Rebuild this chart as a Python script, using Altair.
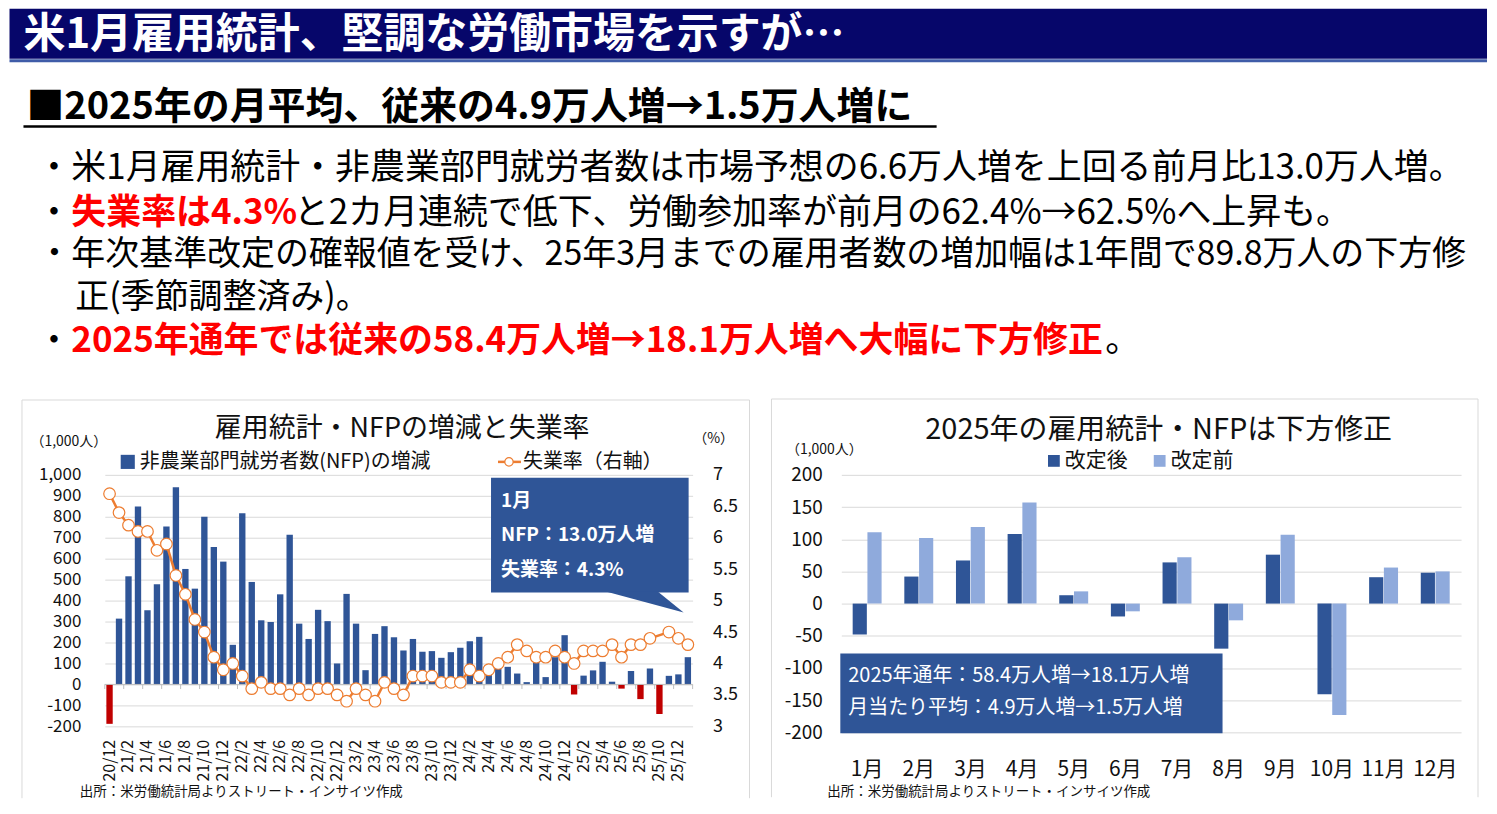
import altair as alt
import pandas as pd

FONT = "Noto Sans CJK JP"
NAVY = "#2F5597"
LIGHT = "#8FAADC"
RED = "#C00000"
ORANGE = "#ED7D31"
GRID = "#D9D9D9"
PANEL = "#D9D9D9"
TITLE_BG = "#06066A"
INK = "#111111"

# ---------------- data ----------------
months = ["20/12"] + [f"{y}/{m}" for y in range(21, 26) for m in range(1, 13)] + ["26/1"]
label_months = months[::2]

nfp = [-188, 314, 516, 849, 354, 478, 754, 941, 551, 457, 800, 656, 586,
       189, 817, 489, 306, 298, 430, 714, 290, 217, 356, 302, 100,
       432, 290, 68, 241, 278, 225, 162, 217, 156, 159, 127, 154,
       175, 206, 227, 70, 90, 84, 52, 11, 110, 35, 130, 235,
       -48, 42, 67, 108, 13, -20, 64, -70, 76, -141, 41, 48,
       130]

rate = [6.7, 6.4, 6.2, 6.1, 6.1, 5.8, 5.9, 5.4, 5.1, 4.7, 4.5, 4.1, 3.9,
        4.0, 3.8, 3.6, 3.7, 3.6, 3.6, 3.5, 3.6, 3.5, 3.6, 3.6, 3.5,
        3.4, 3.6, 3.5, 3.4, 3.7, 3.6, 3.5, 3.8, 3.8, 3.8, 3.7, 3.7,
        3.7, 3.9, 3.8, 3.9, 4.0, 4.1, 4.3, 4.2, 4.1, 4.1, 4.2, 4.1,
        4.0, 4.2, 4.2, 4.2, 4.3, 4.1, 4.3, 4.3, 4.4, None, 4.5, 4.4,
        4.3]

r_months = ["1月", "2月", "3月", "4月", "5月", "6月", "7月", "8月", "9月", "10月", "11月", "12月"]
series = ["改定後", "改定前"]
after = [-48, 42, 67, 108, 13, -20, 64, -70, 76, -141, 41, 48]
before = [111, 102, 119, 157, 19, -12, 72, -26, 107, -173, 56, 50]

df_left = pd.DataFrame({"month": months, "nfp": nfp, "rate": rate})
df_ticks = pd.DataFrame({"month": label_months})
df_right = pd.DataFrame({
    "month": r_months * 2,
    "series": [series[0]] * 12 + [series[1]] * 12,
    "value": after + before,
})
dummy = pd.DataFrame({"k": [0]})


# ---------------- helpers for annotations ----------------
def T(text, x, y, size, color=INK, weight="normal", align="left"):
    return alt.Chart(dummy).mark_text(
        text=text, font=FONT, fontSize=size, color=color, fontWeight=weight,
        align=align, baseline="middle"
    ).encode(x=alt.value(x), y=alt.value(y))


def box(x0, x1, y0, y1, color):
    return alt.Chart(dummy).mark_rect(color=color, opacity=1).encode(
        x=alt.value(x0), x2=alt.value(x1), y=alt.value(y0), y2=alt.value(y1))


def hline(x0, x1, y, color, w=1, opacity=1):
    return alt.Chart(dummy).mark_rule(color=color, strokeWidth=w, opacity=opacity).encode(
        x=alt.value(x0), x2=alt.value(x1), y=alt.value(y))


def vline(x, y0, y1, color, w=1, opacity=1):
    return alt.Chart(dummy).mark_rule(color=color, strokeWidth=w, opacity=opacity).encode(
        x=alt.value(x), y=alt.value(y0), y2=alt.value(y1))


neg_label = "datum.value < 0 ? '-' + format(-datum.value, ',') : format(datum.value, ',')"

# ---------------- header ----------------
# The first column's origin sits 95.5px right of the page margin (left chart overhang),
# so header x positions are given relative to that origin.
HX = 95.5
HW, HH = 1385, 390


def hx(x):
    return x - HX


header = alt.layer(
    box(-HX, HW, 0, 50, TITLE_BG),
    hline(-HX, HW, 52, "#3F5CA8", 3),
    T("米1月雇用統計、堅調な労働市場を示すが…", hx(14), 26, 42, "white", "bold"),
    T("■2025年の月平均、従来の4.9万人増→1.5万人増に", hx(17), 99, 38, "#000000", "bold"),
    hline(hx(14), hx(929), 118, "#000000", 2.5),
    # line 1
    T("・米1月雇用統計・非農業部門就労者数は市場予想の6.6万人増を上回る前月比13.0万人増。", hx(27), 160, 35, "#000000"),
    # line 2
    T("・", hx(27), 205, 35, "#000000"),
    T("失業率は4.3%", hx(62), 205, 35, "#FF0000", "bold"),
    T("と2カ月連続で低下、労働参加率が前月の62.4%→62.5%へ上昇も。", hx(285), 205, 35, "#000000"),
    # line 3-4
    T("・年次基準改定の確報値を受け、25年3月までの雇用者数の増加幅は1年間で89.8万人の下方修", hx(28), 247, 34, "#000000"),
    T("正(季節調整済み)。", hx(66), 290, 34, "#000000"),
    # line 5
    T("・", hx(27), 333, 35, "#000000"),
    T("2025年通年では従来の58.4万人増→18.1万人増へ大幅に下方修正", hx(62), 333, 35, "#FF0000", "bold"),
    T("。", hx(1098), 333, 35, "#000000"),
).properties(width=HW, height=HH)

# ---------------- left chart ----------------
LW, LH = 589, 252
BOT = 324
xs_left = alt.Scale(domain=months, paddingInner=0.33, paddingOuter=0.165)
xaxis_left = alt.Axis(values=label_months, labelAngle=-90, labelFontSize=16, labelPadding=13,
                      ticks=False, domain=False, title=None, labelColor=INK, labelFont=FONT)
ys_left = alt.Scale(domain=[-200, 1000], nice=False)
yaxis_left = alt.Axis(values=list(range(-200, 1001, 100)), labelExpr=neg_label, labelFontSize=17,
                      labelPadding=24, ticks=False, domain=False, grid=True, gridColor=GRID,
                      title=None, labelColor=INK, labelFont=FONT)
ys_rate = alt.Scale(domain=[3, 7], nice=False, zero=False)
yaxis_rate = alt.Axis(orient="right", values=[3, 3.5, 4, 4.5, 5, 5.5, 6, 6.5, 7],
                      labelExpr="datum.value + ''", labelFontSize=18, labelPadding=20,
                      ticks=False, domain=False, grid=False, title=None, labelColor=INK, labelFont=FONT)

bars = alt.Chart(df_left).mark_bar().encode(
    x=alt.X("month:N", scale=xs_left, axis=xaxis_left),
    y=alt.Y("nfp:Q", scale=ys_left, axis=yaxis_left),
    color=alt.condition("datum.nfp < 0", alt.value(RED), alt.value(NAVY)),
)
zero_rule = alt.Chart(dummy).mark_rule(color="#BFBFBF", strokeWidth=1).encode(
    y=alt.Y(datum=0, scale=ys_left, axis=yaxis_left))
ticks = alt.Chart(df_ticks).mark_rule(color="#BFBFBF", strokeWidth=1, xOffset=-1.6).encode(
    x=alt.X("month:N", scale=xs_left, axis=xaxis_left, bandPosition=0),
    y=alt.Y(datum=0, scale=ys_left, axis=yaxis_left),
    y2=alt.Y2(datum=-22),
)
end_tick = alt.Chart(dummy).mark_rule(color="#BFBFBF", strokeWidth=1).encode(
    x=alt.value(LW), y=alt.Y(datum=0, scale=ys_left, axis=yaxis_left), y2=alt.Y2(datum=-22))
nfp_part = alt.layer(bars, zero_rule, ticks, end_tick)

line = alt.Chart(df_left).transform_filter("isValid(datum.rate)").mark_line(
    color=ORANGE, strokeWidth=2.5).encode(
    x=alt.X("month:N", scale=xs_left, axis=xaxis_left),
    y=alt.Y("rate:Q", scale=ys_rate, axis=yaxis_rate),
)
pts = alt.Chart(df_left).transform_filter("isValid(datum.rate)").mark_point(
    shape="circle", filled=True, fill="white", stroke=ORANGE, strokeWidth=1.2, size=135, opacity=1).encode(
    x=alt.X("month:N", scale=xs_left, axis=xaxis_left),
    y=alt.Y("rate:Q", scale=ys_rate, axis=yaxis_rate),
)
rate_part = alt.layer(line, pts)

callout_ptr = alt.Chart(dummy).mark_point(
    shape="M-36,-10 L16,-10 L42,11 Z", size=4, filled=True, fill=NAVY, strokeWidth=0, opacity=1
).encode(x=alt.value(538), y=alt.value(127))

left = alt.layer(
    vline(-95, 0, 10, "#FFFFFF", 1, 0),
    vline(-83, -75, BOT, PANEL),
    vline(646, -75, BOT, PANEL),
    hline(-83, 646, -75, PANEL),
    nfp_part,
    rate_part,
    T("雇用統計・NFPの増減と失業率", 298, -46, 27, align="center"),
    T("（1,000人）", -36, -33, 14, align="center"),
    T("（%）", 610, -36, 14, align="center"),
    alt.Chart(dummy).mark_square(color=NAVY, size=200, opacity=1).encode(x=alt.value(23), y=alt.value(-13)),
    T("非農業部門就労者数(NFP)の増減", 35, -13, 20),
    hline(394, 417, -13, ORANGE, 2.5),
    alt.Chart(dummy).mark_point(shape="circle", filled=True, fill="white", stroke=ORANGE,
                                strokeWidth=1.2, size=70, opacity=1).encode(x=alt.value(405), y=alt.value(-13)),
    T("失業率（右軸）", 419, -13, 20),
    box(387, 585, 3, 118, NAVY),
    callout_ptr,
    T("1月", 397, 26, 19, "white", "bold"),
    T("NFP：13.0万人増", 397, 60, 19, "white", "bold"),
    T("失業率：4.3%", 397, 95, 19, "white", "bold"),
    T("出所：米労働統計局よりストリート・インサイツ作成", -25, 318, 13.5),
).resolve_scale(y="independent").properties(width=LW, height=LH)

# ---------------- right chart ----------------
RW, RH = 621, 258
xs_r = alt.Scale(domain=r_months, paddingInner=0.44, paddingOuter=0.22)
xaxis_r = alt.Axis(labelFontSize=21, labelPadding=26, ticks=False, domain=False, title=None,
                   labelAngle=0, labelColor=INK, labelFont=FONT)
ys_r = alt.Scale(domain=[-200, 200], nice=False)
yaxis_r = alt.Axis(values=list(range(-200, 201, 50)), labelExpr=neg_label, labelFontSize=19,
                   labelPadding=19, ticks=False, domain=False, grid=True, gridColor=GRID,
                   title=None, labelColor=INK, labelFont=FONT)

bars_r = alt.Chart(df_right).mark_bar().encode(
    x=alt.X("month:N", scale=xs_r, axis=xaxis_r),
    xOffset=alt.XOffset("series:N", sort=series, scale=alt.Scale(paddingInner=0.04)),
    y=alt.Y("value:Q", scale=ys_r, axis=yaxis_r),
    color=alt.Color("series:N", scale=alt.Scale(domain=series, range=[NAVY, LIGHT]), legend=None),
)

right = alt.layer(
    vline(-70, -76, BOT - 1, PANEL),
    vline(638, -76, BOT - 1, PANEL),
    hline(-70, 638, -76, PANEL),
    bars_r,
    T("2025年の雇用統計・NFPは下方修正", 318, -45, 29, align="center"),
    T("（1,000人）", -17, -25, 14, align="center"),
    alt.Chart(dummy).mark_square(color=NAVY, size=140, opacity=1).encode(x=alt.value(213), y=alt.value(-14)),
    T("改定後", 224, -14, 21),
    alt.Chart(dummy).mark_square(color=LIGHT, size=140, opacity=1).encode(x=alt.value(319), y=alt.value(-14)),
    T("改定前", 330, -14, 21),
    box(-1, 382, 179, 259, NAVY),
    T("2025年通年：58.4万人増→18.1万人増", 7, 202, 20, "white"),
    T("月当たり平均：4.9万人増→1.5万人増", 7, 234, 20, "white"),
    T("出所：米労働統計局よりストリート・インサイツ作成", -14, 318, 13.5),
).properties(width=RW, height=RH)

chart = alt.concat(
    header,
    alt.hconcat(left, right, spacing=20),
    columns=1,
    spacing=0,
).properties(padding=0).configure(font=FONT).configure_view(stroke=None)

chart.save("out.html", embed_options={"renderer": "svg", "actions": False})
